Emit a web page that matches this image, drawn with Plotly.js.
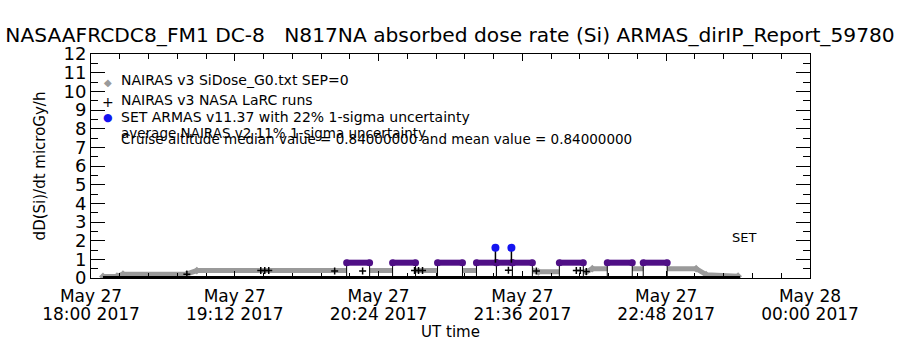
<!DOCTYPE html>
<html><head><meta charset="utf-8">
<script src="https://cdn.plot.ly/plotly-3.0.1.min.js"></script>
<style>html,body{margin:0;padding:0;background:#fff}#chart{width:900px;height:350px}</style>
</head><body><div id="chart"></div>
<script>
const DAY = '2017-05-27 ';
// NAIRAS v3 SiDose_G0.txt SEP=0 (grey band)
const g0Times  = ['18:06','18:13','18:16','18:48','18:53','21:41','21:44','22:08','22:11','23:03','23:08','23:24'];
const g0Values = [0.08, 0.10, 0.20, 0.22, 0.40, 0.40, 0.33, 0.33, 0.50, 0.50, 0.18, 0.10];
// NAIRAS v3 NASA LaRC runs
const larcTimes  = ['18:48','19:25','19:27','19:29','20:02','20:16','20:42','20:44','20:46','21:29','21:43','22:03','22:05','22:08'];
const larcValues = [0.20, 0.40, 0.40, 0.40, 0.37, 0.37, 0.40, 0.40, 0.40, 0.42, 0.37, 0.40, 0.40, 0.35];
// SET ARMAS cruise segments
const segStart = ['20:08:00','20:31:00','20:53:30','21:13:00','21:23:00','21:31:00','21:54:30','22:18:30','22:36:30'];
const segEnd   = ['20:19:30','20:42:30','21:06:00','21:23:00','21:31:00','21:41:00','22:06:30','22:31:00','22:48:30'];
const segValue = [0.82, 0.82, 0.82, 0.82, 0.82, 0.82, 0.82, 0.82, 0.82];
const segFloor = 0.06;
// SET ARMAS points above cruise level
const setTimes  = ['21:22:30','21:30:30'];
const setValues = [1.62, 1.62];
// baseline trace
const baseTimes  = ['18:06','23:25'];
const baseValues = [0.03, 0.03];
// axis ticks
const tickVals  = ['2017-05-27 18:00','2017-05-27 19:12','2017-05-27 20:24','2017-05-27 21:36','2017-05-27 22:48','2017-05-28 00:00'];
const tickDay   = ['May 27','May 27','May 27','May 27','May 27','May 28'];
const tickHour  = ['18:00 2017','19:12 2017','20:24 2017','21:36 2017','22:48 2017','00:00 2017'];
const xRange = ['2017-05-27 18:00','2017-05-28 00:00'];
// legend texts
const legendNames = ['NAIRAS v3 SiDose_G0.txt SEP=0','NAIRAS v3 NASA LaRC runs','SET ARMAS v11.37 with 22% 1-sigma uncertainty'];
const noteTexts = ['average NAIRAS v2 11% 1-sigma uncertainty',
  'Cruise altitude median value = 0.84000000 and mean value = 0.84000000'];

const d = t => DAY + t;
const GREY = '#9a9a9a', PURPLE = '#4f0f86', BLUE = '#1414f0';

const traces = [];
traces.push({x: g0Times.map(d), y: g0Values, mode:'lines', line:{color:GREY, width:5},
  showlegend:false, hoverinfo:'skip'});
traces.push({x: g0Times.map(d), y: g0Values, mode:'markers', name:legendNames[0],
  marker:{symbol:'diamond', size:6, color:GREY}, showlegend:false});
// white boxes under cruise segments
segStart.forEach((s,i)=>{
  traces.push({x:[d(s),d(s),d(segEnd[i]),d(segEnd[i]),d(s)], y:[segFloor,segValue[i],segValue[i],segFloor,segFloor],
    mode:'lines', fill:'toself', fillcolor:'#fff', line:{color:'#000', width:1}, showlegend:false, hoverinfo:'skip'});
});
traces.push({x: larcTimes.map(d), y: larcValues, mode:'markers', name:legendNames[1],
  marker:{symbol:'cross-thin-open', size:5, color:'#000', line:{color:'#000', width:1.5}}, showlegend:false});
// purple cruise segments
const px = [], py = [];
segStart.forEach((s,i)=>{ px.push(d(s), d(segEnd[i]), null); py.push(segValue[i], segValue[i], null); });
traces.push({x:px, y:py, mode:'lines+markers', line:{color:PURPLE, width:6},
  marker:{color:PURPLE, size:7, symbol:'circle'}, showlegend:false, hoverinfo:'skip'});
traces.push({x: setTimes.map(d), y: setValues, mode:'markers', name:legendNames[2],
  marker:{symbol:'circle', size:8, color:BLUE},
  error_y:{type:'data', symmetric:false, array:setValues.map(()=>0), arrayminus:setValues.map(v=>v-segValue[0]),
    color:'#000', thickness:1.5, width:0}, showlegend:false});
traces.push({x: baseTimes.map(d), y: baseValues, xaxis:'x2', mode:'lines', line:{color:'#000', width:3},
  showlegend:false, hoverinfo:'skip'});

const FONT = 'DejaVu Sans, sans-serif';
const PX = v => (v-91)/719, PY = v => (278-v)/224;
const legendGlyphs = [
  {t:'\u25c6', c:GREY, s:10, y:82}, {t:'+', c:'#000', s:14, y:102}, {t:'\u25cf', c:BLUE, s:11, y:117}];
const legendRowsY = [80, 100, 117];
const notesY = [133, 139];
const anns = [];
legendGlyphs.forEach(g=>anns.push({xref:'paper', yref:'paper', x:PX(108), y:PY(g.y), xanchor:'center', yanchor:'middle',
  showarrow:false, text:g.t, font:{size:g.s, color:g.c}}));
legendNames.forEach((n,i)=>anns.push({xref:'paper', yref:'paper', x:PX(119), y:PY(legendRowsY[i]), xanchor:'left',
  yanchor:'middle', showarrow:false, text:n, font:{size:14}}));
noteTexts.forEach((n,i)=>anns.push({xref:'paper', yref:'paper', x:PX(119), y:PY(notesY[i]), xanchor:'left',
  yanchor:'middle', showarrow:false, text:n, font:{size:13.5}}));
anns.push({xref:'x', yref:'y', x:d('23:27'), y:2.15, showarrow:false, text:'SET', font:{size:13}});

const layout = {
  width:900, height:350, margin:{l:91, r:90, t:54, b:72},
  paper_bgcolor:'#fff', plot_bgcolor:'#fff',
  font:{family:FONT, color:'#000', size:15},
  title:{text:'NASAAFRCDC8_FM1 DC-8\u00a0\u00a0\u00a0N817NA absorbed dose rate (Si) ARMAS_dirIP_Report_59780',
    x:0.5, xref:'container', xanchor:'center', y:1-35/350, yref:'container', yanchor:'middle',
    font:{family:FONT, size:20.2, color:'#000'}},
  showlegend:false,
  xaxis:{type:'date', range:xRange, tickmode:'array', tickvals:tickVals, ticktext:tickDay,
    ticks:'inside', ticklen:7, tickcolor:'#000', showline:true, linecolor:'#000', linewidth:1, mirror:'ticks',
    showgrid:false, zeroline:false, tickfont:{size:17}, automargin:false, ticklabelstandoff:3,
    minor:{dtick:864000, ticks:'inside', ticklen:5, tickcolor:'#000', showgrid:false},
    title:{text:'UT time', font:{size:15}, standoff:21}},
  xaxis2:{type:'date', range:xRange, overlaying:'x', anchor:'y', side:'bottom', tickmode:'array', tickvals:tickVals,
    ticktext:tickHour, ticks:'', showline:false, showgrid:false, zeroline:false, tickfont:{size:17},
    ticklabelstandoff:24, automargin:false},
  yaxis:{range:[0,12], tickmode:'linear', tick0:0, dtick:1, ticks:'inside', ticklen:14, tickcolor:'#000',
    showline:true, linecolor:'#000', linewidth:1, mirror:'ticks', showgrid:false, zeroline:false,
    tickfont:{size:18}, automargin:false,
    minor:{dtick:0.5, ticks:'inside', ticklen:7, tickcolor:'#000', showgrid:false},
    title:{text:'dD(Si)/dt microGy/h', font:{size:15}, standoff:14}},
  annotations:anns
};
Plotly.newPlot('chart', traces, layout, {displayModeBar:false, staticPlot:true});
</script></body></html>
